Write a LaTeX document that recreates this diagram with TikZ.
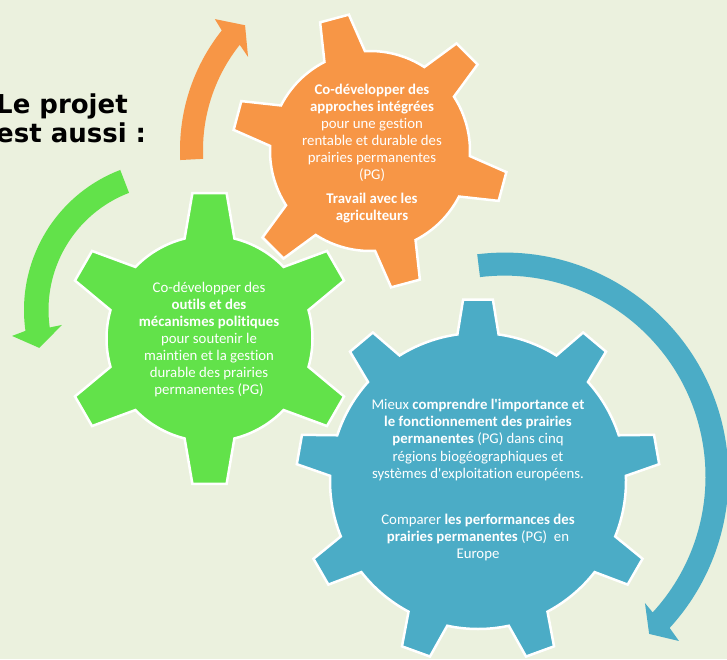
\documentclass[tikz,border=0pt]{standalone}
\usepackage{fontspec}
\newfontfamily\carlito{Carlito}[Ligatures=NoCommon]
\newfontfamily\dejavu{DejaVu Sans}
\definecolor{bg}{HTML}{EBF1DE}
\definecolor{orangegear}{HTML}{F79646}
\definecolor{greengear}{HTML}{62E24A}
\definecolor{bluegear}{HTML}{4BACC6}
% colour, centre, teeth, body radius, tip radius, first tooth, base half angle, tip half angle
\newcommand{\gearshape}[8]{%
  \pgfmathsetmacro{\gstep}{360/#3}
  \filldraw[fill=#1, gearline, shift={(#2)}] (#6-#7:#4)
    \foreach \k [evaluate=\k as \ang using #6+(\k-1)*\gstep] in {1,...,#3} {
      -- (\ang-#8:#5) -- (\ang+#8:#5) -- (\ang+#7:#4)
      arc[start angle=\ang+#7, end angle=\ang+\gstep-#7, radius=#4]
    } -- cycle;
}
\begin{document}
\begin{tikzpicture}[x=1pt,y=1pt]
  \tikzstyle{gearline} = [draw=white, line width=2.5pt, line join=miter]
  \tikzstyle{txt} = [text=white, align=center, inner sep=0pt, font=\carlito\fontsize{14.8}{17}\selectfont]
  \tikzstyle{ttl} = [anchor=base west, inner sep=0pt, font=\dejavu\bfseries\fontsize{26}{30}\selectfont]
  \useasboundingbox (0,0) rectangle (727,659);
  \clip (0,0) rectangle (727,659);
  \fill[bg] (0,0) rectangle (727,659);

  \node[ttl] (title1) at (-4,545) {Le projet};
  \node[ttl] (title2) at (-4,516) {est aussi :};

  \fill[orangegear, shift={(372,509)}] (183:192) arc[start angle=183, end angle=141.5, radius=192]
    -- (140.2:204.5) -- (135.5:178) -- (143.1:155) -- (141.5:169)
    arc[start angle=141.5, end angle=183, radius=169] -- cycle;
  \fill[greengear, shift={(174,349)}] (111:150) arc[start angle=111, end angle=188, radius=150]
    -- (189.1:164) -- (195.7:140) -- (187.6:113) -- (188:125.5)
    arc[start angle=188, end angle=111, radius=125.5] -- cycle;
  \fill[bluegear, shift={(504.5,182.4)}] (97:224) arc[start angle=97, end angle=-42.5, radius=224]
    -- (-43.3:239.7) -- (-47.4:213.7) -- (-42:189) -- (-42.5:201)
    arc[start angle=-42.5, end angle=97, radius=201] -- cycle;

  \gearshape{orangegear}{370,508}{6}{100}{138}{105}{12.1}{6.2}
  \gearshape{greengear}{209.5,320.5}{6}{103}{146.5}{90}{14}{6.7}
  \gearshape{bluegear}{478,178}{9}{148}{182}{90}{8}{4.7}

  \node[txt] (orangetext) at (372,505) {\textbf{Co-développer des}\\\textbf{approches intégrées}\\pour une gestion\\rentable et durable des\\prairies permanentes\\(PG)\\[7pt]\textbf{Travail avec les}\\\textbf{agriculteurs}};
  \node[txt] (greentext) at (209,319) {Co-développer des\\\textbf{outils et des}\\\textbf{mécanismes politiques}\\pour soutenir le\\maintien et la gestion\\durable des prairies\\permanentes (PG)};
  \node[txt, font=\carlito\fontsize{14.8}{17.3}\selectfont] (bluetext) at (478,179) {Mieux \textbf{comprendre l'importance et}\\\textbf{le fonctionnement des prairies}\\\textbf{permanentes} (PG) dans cinq\\régions biogéographiques et\\systèmes d'exploitation européens.\\[28.7pt]Comparer \textbf{les performances des}\\\textbf{prairies permanentes} (PG)~ en\\Europe};
\end{tikzpicture}
\end{document}
